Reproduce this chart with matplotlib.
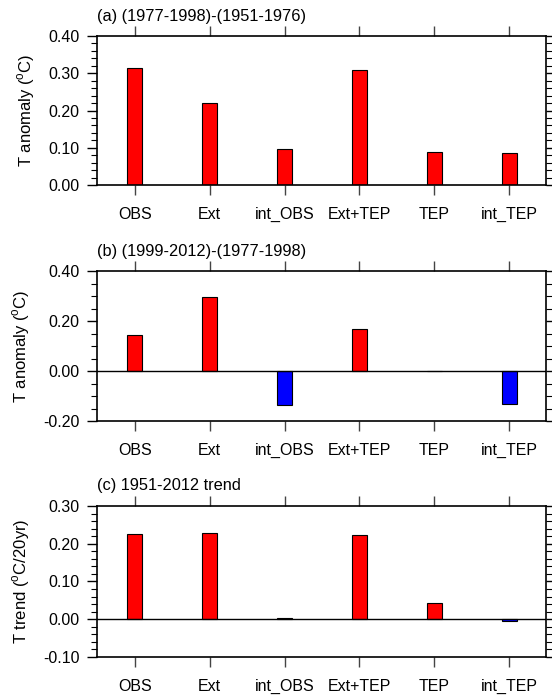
import numpy as np
import matplotlib
matplotlib.use("Agg")
import matplotlib.pyplot as plt
from matplotlib.ticker import MultipleLocator, FormatStrFormatter

plt.rcParams['font.family'] = ['Liberation Sans', 'DejaVu Sans']

# Categories and values
labels = ["OBS", "Ext", "int_OBS", "Ext+TEP", "TEP", "int_TEP"]
vals_a = [0.315, 0.221, 0.096, 0.309, 0.088, 0.087]
vals_b = [0.146, 0.297, -0.136, 0.169, 0.002, -0.130]
vals_c = [0.225, 0.228, 0.004, 0.223, 0.044, -0.006]

titles = ["(a) (1977-1998)-(1951-1976)",
          "(b) (1999-2012)-(1977-1998)",
          "(c) 1951-2012 trend"]
ylabels = ["T anomaly ($^\\mathregular{o}$C)",
           "T anomaly ($^\\mathregular{o}$C)",
           "T trend ($^\\mathregular{o}$C/20yr)"]
ylims = [(0.0, 0.40), (-0.20, 0.40), (-0.10, 0.30)]
majors = [0.10, 0.20, 0.10]
minors = [0.02, 0.05, 0.02]

fig = plt.figure(figsize=(5.52, 6.95), dpi=100)
# axes boxes in figure fraction (left, bottom, width, height)
boxes = [(0.1766, 0.7338, 0.8134, 0.2144),
         (0.1766, 0.3942, 0.8134, 0.2158),
         (0.1766, 0.0547, 0.8134, 0.2173)]

x = np.arange(1, len(labels) + 1)
for vals, title, ylab, ylim, maj, mnr, box in zip(
        [vals_a, vals_b, vals_c], titles, ylabels, ylims, majors, minors, boxes):
    ax = fig.add_axes(box)
    v = np.array(vals)
    colors = ["#ff0000" if val >= 0 else "#0000ff" for val in v]
    ax.bar(x, v, width=0.2, color=colors, edgecolor="black", linewidth=0.8, zorder=2)
    if ylim[0] < 0:
        ax.axhline(0, color="black", linewidth=1.0, zorder=3)
    ax.set_xlim(0.5, 6.5)
    ax.set_ylim(*ylim)
    ax.set_xticks(x)
    ax.set_xticklabels(labels)
    ax.yaxis.set_major_locator(MultipleLocator(maj))
    ax.yaxis.set_minor_locator(MultipleLocator(mnr))
    ax.yaxis.set_major_formatter(FormatStrFormatter("%.2f"))
    ax.tick_params(axis="both", which="major", direction="out", length=7,
                   width=1.0, labelsize=11.5, top=True, right=True, pad=6)
    ax.tick_params(axis="x", which="major", color="#444444", pad=9)
    ax.tick_params(axis="y", which="minor", direction="out", length=4,
                   width=0.8, right=True)
    for s in ax.spines.values():
        s.set_linewidth(1.2)
    ax.set_ylabel(ylab, fontsize=12, labelpad=8)
    ax.annotate(title, xy=(0, 1), xycoords="axes fraction",
                xytext=(0, 9), textcoords="offset points",
                ha="left", va="bottom", fontsize=11.8)

fig.savefig("out.png", dpi=100)
